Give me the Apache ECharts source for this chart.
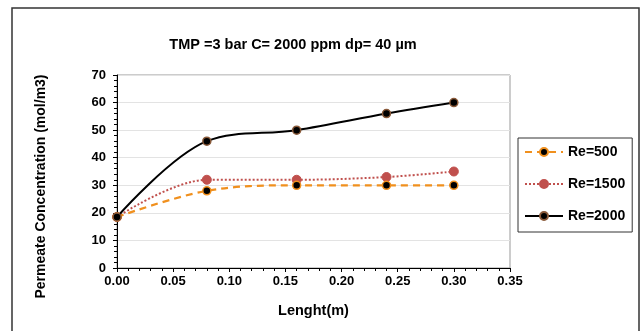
<!DOCTYPE html>
<html lang="en">
<head>
    <meta charset="UTF-8">
    <title>Permeate Concentration</title>
    <script src="https://cdn.jsdelivr.net/npm/echarts@6/dist/echarts.min.js"></script>
    <style>
        html, body { margin: 0; padding: 0; background: #fff; }
        #chart { width: 643px; height: 331px; }
    </style>
</head>
<body>
<div id="chart"></div>
<script>
  // data
  var lengths = [0.00, 0.08, 0.16, 0.24, 0.30];
  var re500 = [18.5, 28, 30, 30, 30];
  var re1500 = [18.5, 32, 32, 33, 35];
  var re2000 = [18.5, 46, 50, 56, 60];
  var seriesNames = ['Re=500', 'Re=1500', 'Re=2000'];

  var font = 'Liberation Sans';

  function pairs(ys) {
    return lengths.map(function (x, i) { return [x, ys[i]]; });
  }

  var chart = echarts.init(document.getElementById('chart'));
  var options = {
    animation: false,
    // outer frame
    graphic: [{
      type: 'polyline',
      shape: { points: [[12, 340], [12, 8], [639, 8], [639, 340]] },
      style: { stroke: '#333', lineWidth: 1.5, fill: null }
    }],
    title: {
      text: 'TMP =3 bar C= 2000 ppm dp= 40 µm',
      left: 288,
      top: 32,
      textAlign: 'center',
      textStyle: { fontFamily: font, fontSize: 14.5, fontWeight: 'bold', color: '#000' }
    },
    legend: {
      orient: 'vertical',
      left: 518,
      top: 138,
      padding: [7, 7, 9, 6],
      borderColor: '#333',
      borderWidth: 1,
      itemWidth: 38,
      itemHeight: 10,
      itemGap: 18,
      data: seriesNames,
      textStyle: { fontFamily: font, fontSize: 14, fontWeight: 'bold', color: '#000' }
    },
    grid: {
      left: 117,
      right: 133,
      top: 75,
      bottom: 63,
      show: true,
      borderColor: '#999',
      borderWidth: 1
    },
    xAxis: {
      type: 'value',
      min: 0,
      max: 0.35,
      interval: 0.05,
      name: 'Lenght(m)',
      nameLocation: 'middle',
      nameGap: 35,
      nameTextStyle: { fontFamily: font, fontSize: 14.5, fontWeight: 'bold', color: '#000' },
      axisLine: { lineStyle: { color: '#000', width: 1 } },
      axisTick: { show: true, inside: false, length: 4, lineStyle: { color: '#000' } },
      minorTick: { show: true, splitNumber: 5, length: 3, lineStyle: { color: '#000' } },
      splitLine: { show: false },
      axisLabel: {
        fontFamily: font, fontSize: 13, fontWeight: 'bold', color: '#000', margin: 7,
        formatter: function (v) { return v.toFixed(2); }
      }
    },
    yAxis: {
      type: 'value',
      min: 0,
      max: 70,
      interval: 10,
      name: 'Permeate Concentration (mol/m3)',
      nameLocation: 'middle',
      nameGap: 69,
      // shifted down a little, as in the picture
      nameTextStyle: { fontFamily: font, fontSize: 14, fontWeight: 'bold', color: '#000', padding: [0, 30, 0, 0] },
      axisLine: { show: true, lineStyle: { color: '#000', width: 1 } },
      axisTick: { show: true, length: 4, lineStyle: { color: '#000' } },
      minorTick: { show: true, splitNumber: 5, length: 3, lineStyle: { color: '#000' } },
      splitLine: { show: true, lineStyle: { color: '#e3e3e3', width: 1 } },
      axisLabel: { fontFamily: font, fontSize: 13, fontWeight: 'bold', color: '#000', margin: 11 }
    },
    series: [
      {
        name: 'Re=500',
        type: 'line',
        smooth: 0.35,
        data: pairs(re500),
        symbol: 'circle',
        symbolSize: 8,
        z: 3,
        lineStyle: { color: '#F0901E', width: 2.2, type: [7, 5] },
        itemStyle: { color: '#000', borderColor: '#F0901E', borderWidth: 1.5 }
      },
      {
        name: 'Re=1500',
        type: 'line',
        smooth: 0.35,
        data: pairs(re1500),
        symbol: 'circle',
        symbolSize: 9,
        z: 2,
        lineStyle: { color: '#C0504D', width: 2, type: [2, 2] },
        itemStyle: { color: '#C0504D', borderColor: '#C0504D', borderWidth: 1 }
      },
      {
        name: 'Re=2000',
        type: 'line',
        smooth: 0.35,
        data: pairs(re2000),
        symbol: 'circle',
        symbolSize: 8,
        z: 4,
        lineStyle: { color: '#000', width: 2 },
        itemStyle: { color: '#000', borderColor: '#8a5a3a', borderWidth: 1.5 }
      }
    ]
  };
  chart.setOption(options);
</script>
</body>
</html>
